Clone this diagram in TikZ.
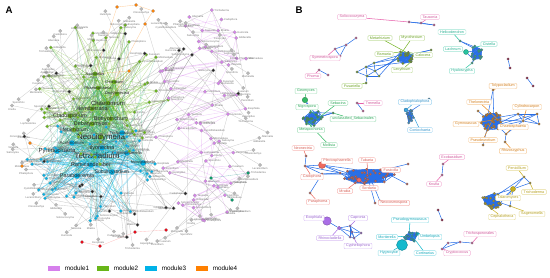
\documentclass[tikz,border=0pt]{standalone}
\usepackage{fontspec}
\setmainfont{Liberation Sans}
\usetikzlibrary{backgrounds}

\definecolor{modone}{RGB}{214,128,236}
\definecolor{modtwo}{RGB}{104,182,24}
\definecolor{modthree}{RGB}{0,178,232}
\definecolor{modfour}{RGB}{255,128,0}
\definecolor{netblue}{RGB}{40,110,230}
\definecolor{cred}{RGB}{238,105,95}
\definecolor{cgreen}{RGB}{120,180,40}
\definecolor{cteal}{RGB}{40,195,160}
\definecolor{corange}{RGB}{235,140,30}
\definecolor{cyell}{RGB}{200,175,30}
\definecolor{cpurp}{RGB}{170,110,230}
\definecolor{ccyan}{RGB}{20,185,205}
\definecolor{cpink}{RGB}{230,95,170}
\definecolor{cemer}{RGB}{50,185,100}
\definecolor{clblue}{RGB}{60,165,225}

\tikzset{
  adot/.style={circle, inner sep=0pt, minimum size=0.07cm, draw=black!35, line width=0.1pt},
  ahub/.style={circle, inner sep=0pt, minimum size=0.1cm, draw=black!35, line width=0.1pt},
  alab/.style={font=\fontsize{1.5}{1.7}\selectfont, text=black!55, inner sep=0.3pt},
  hlab/.style={font=\fontsize{#1}{#1}\selectfont, text=black!85, inner sep=0pt},
  eA/.style={line width=0.2pt, draw opacity=0.38},
  bdot/.style={circle, inner sep=0pt, minimum size=0.05cm, draw=black!60, line width=0.1pt},
  bbig/.style={circle, inner sep=0pt, draw=#1!70!black, line width=0.2pt, fill=#1},
  bedge/.style={netblue, line width=0.3pt},
  blab/.style={draw=#1!45, rounded corners=0.6pt, fill=white, text=#1!90!black,
    font=\fontsize{2.1}{2.4}\selectfont, inner xsep=1.2pt, inner ysep=0.6pt, line width=0.25pt},
  lk/.style={#1, line width=0.3pt},
  panel/.style={font=\bfseries\fontsize{5.5}{6}\selectfont, inner sep=0pt},
  swatch/.style={fill=#1, minimum width=0.24cm, minimum height=0.1cm, inner sep=0pt},
  leg/.style={font=\fontsize{3.6}{4}\selectfont, inner sep=0.5pt, anchor=west}
}

\def\smallnames{{"Mortierella","Fusarium","Penicillium","Aspergillus","Trichoderma","Alternaria","Cadophora","Exophiala","Mrakia","Tausonia","Humicola","Solicoccozyma","Gibberella","Clonostachys","Lecanicillium","Cystofilobasidium","Phialophora","Minimedusa","Saitozyma","Volutella","Conocybe","Lophiostoma","Knufia","Sporothrix"}}

% dense module in panel B: name, cx, cy, rx, ry, count, colour
\newcommand{\hubnet}[7]{%
  \foreach \i in {1,...,#6}{
    \pgfmathsetmacro\ang{360*rnd}
    \pgfmathsetmacro\rr{sqrt(rnd)}
    \node[bdot, fill=#7!85!black] (#1\i) at ({#2+#4*\rr*cos(\ang)},{#3+#5*\rr*sin(\ang)}) {};
  }
  \begin{pgfonlayer}{background}
    \foreach \a in {1,...,#6}{\foreach \b in {1,...,#6}{\ifnum\a<\b \draw[bedge] (#1\a) -- (#1\b);\fi}}
  \end{pgfonlayer}
}

\begin{document}
\begin{tikzpicture}[x=0.02cm, y=-0.02cm]
\useasboundingbox (0,0) rectangle (550,277);
\pgfmathsetseed{31}

\node[panel] (labA) at (9,10) {A};
\node[panel] (labB) at (299,10) {B};

% ---------------- panel A ----------------
% module2 hubs
\foreach \nm/\x/\y/\s [count=\k] in {Chaetomium/108/103/3.4, Hemibetraria/92/109/3.1, Cladosporium/70/116/3.1,
    Debaryomyces/92/124/3.1, Botryotrichum/111/119/3.1, Metarhizium/74/130/2.9, Phaeosphaeria/98/88/2.3,
    Ascobolus/95/74/2.3, Chloridium/114/82/2.2, Dactylonectria/117/94/2.2, Neodidymelia/101/137/4.5}{
  \node[ahub, fill=modtwo, label={[hlab=\s]center:\nm}] (gh\k) at (\x,\y) {};
}
% module3 hubs
\foreach \nm/\x/\y/\s [count=\k] in {Tetracladium/97/156/4.5, Pyrenochaeta/57/151/3.4, Ilyonectria/102/148/3.1,
    Ramicandelaber/91/165/3.1, Paraboeremia/77/176/3.1, Subulicystidium/112/172/2.8, Acremonium/72/143/2.5,
    Plectosphaerella/127/153/2.3, Monographella/143/163/2.1, Trichocladium/122/133/2.3}{
  \node[ahub, fill=modthree, minimum size=0.12cm, label={[hlab=\s]center:\nm}] (bh\k) at (\x,\y) {};
}
% module2 nodes
\foreach \i in {1,...,48}{
  \pgfmathsetmacro\ang{360*rnd}
  \pgfmathsetmacro\rr{0.3+0.7*sqrt(rnd)}
  \pgfmathsetmacro\px{104+68*\rr*cos(\ang)}
  \pgfmathsetmacro\py{90+76*\rr*sin(\ang)}
  \pgfmathparse{\smallnames[mod(\i,24)]}\edef\nm{\pgfmathresult}
  \node[adot, fill=modtwo, label={[alab]right:\nm}] (gn\i) at (\px,\py) {};
}
% module3 nodes
\foreach \i in {1,...,45}{
  \pgfmathsetmacro\ang{360*rnd}
  \pgfmathsetmacro\rr{0.3+0.7*sqrt(rnd)}
  \pgfmathsetmacro\px{92+68*\rr*cos(\ang)}
  \pgfmathsetmacro\py{170+52*\rr*sin(\ang)}
  \pgfmathparse{\smallnames[mod(\i+7,24)]}\edef\nm{\pgfmathresult}
  \node[adot, fill=modthree, label={[alab]right:\nm}] (bn\i) at (\px,\py) {};
}
% module1 nodes
\foreach \i in {1,...,62}{
  \pgfmathsetmacro\py{14+3.377*(\i-1)+8*(rnd-0.5)}
  \pgfmathsetmacro\tt{(\py-117)/108}
  \pgfmathsetmacro\hw{52*sqrt(max(0.05,1-\tt*\tt))}
  \pgfmathsetmacro\px{204+\hw*(2*rnd-1)}
  \pgfmathparse{\smallnames[mod(\i+3,24)]}\edef\nm{\pgfmathresult}
  \node[adot, fill=modone, label={[alab]right:\nm}] (pn\i) at (\px,\py) {};
}
% outer grey nodes
\foreach \i in {1,...,66}{
  \pgfmathsetmacro\ang{5.4545*\i+4*(rnd-0.5)}
  \pgfmathsetmacro\rr{0.83+0.17*rnd}
  \pgfmathsetmacro\px{138+130*\rr*cos(\ang)}
  \pgfmathsetmacro\py{130+124*\rr*sin(\ang)}
  \pgfmathparse{\smallnames[mod(\i+11,24)]}\edef\nm{\pgfmathresult}
  \node[adot, fill=gray!55, label={[alab]below:\nm}] (yn\i) at (\px,\py) {};
}
% black nodes
\foreach \i in {1,...,26}{
  \pgfmathsetmacro\ang{50+290*rnd}
  \pgfmathsetmacro\rr{0.58+0.3*rnd}
  \pgfmathsetmacro\px{138+130*\rr*cos(\ang)}
  \pgfmathsetmacro\py{130+124*\rr*sin(\ang)}
  \pgfmathparse{\smallnames[mod(\i+5,24)]}\edef\nm{\pgfmathresult}
  \node[adot, fill=black!85, label={[alab]left:\nm}] (kn\i) at (\px,\py) {};
}
% module4, red and teal nodes
\foreach \x/\y [count=\k] in {117/7, 136/5, 153/11, 145/24, 129/71, 30/143, 22/166}{
  \node[adot, fill=modfour] (on\k) at (\x,\y) {};
}
\foreach \x/\y [count=\k] in {82/242, 100/246, 135/232, 166/230}{
  \node[adot, fill=red!75!purple] (rn\k) at (\x,\y) {};
}
\foreach \x/\y [count=\k] in {248/173, 211/178, 232/200}{
  \node[adot, fill=teal!80!green] (tn\k) at (\x,\y) {};
}

\begin{pgfonlayer}{background}
  % hub to hub
  \foreach \a in {1,...,11}{\foreach \b in {1,...,11}{\ifnum\a<\b \draw[eA, modtwo] (gh\a) -- (gh\b);\fi}}
  \foreach \a in {1,...,10}{\foreach \b in {1,...,10}{\ifnum\a<\b \draw[eA, modthree] (bh\a) -- (bh\b);\fi}}
  \foreach \a in {1,...,11}{\foreach \b in {1,...,10}{\draw[eA, modthree!50!modtwo] (gh\a) -- (bh\b);}}
  % module members to hubs
  \foreach \i in {1,...,48}{\foreach \r in {1,2,3,4}{
    \pgfmathtruncatemacro\h{random(1,11)} \draw[eA, modtwo] (gn\i) -- (gh\h);}}
  \foreach \i in {1,...,45}{\foreach \r in {1,2,3,4}{
    \pgfmathtruncatemacro\h{random(1,10)} \draw[eA, modthree] (bn\i) -- (bh\h);}}
  \foreach \k in {1,...,50}{
    \pgfmathtruncatemacro\a{random(1,48)} \pgfmathtruncatemacro\b{random(1,10)}
    \draw[eA, modthree!50!modtwo] (gn\a) -- (bh\b);
    \pgfmathtruncatemacro\c{random(1,45)} \pgfmathtruncatemacro\d{random(1,11)}
    \draw[eA, modthree!50!modtwo] (bn\c) -- (gh\d);}
  % module1 web
  \foreach \i in {1,...,62}{\foreach \r in {1,2}{
    \pgfmathtruncatemacro\j{min(62,\i+random(1,7))}
    \ifnum\i<\j \draw[eA, modone] (pn\i) -- (pn\j);\fi}}
  % outer nodes
  \foreach \i in {1,...,66}{
    \ifnum\i<17 \pgfmathtruncatemacro\h{random(30,62)} \draw[eA, gray] (yn\i) -- (pn\h);
    \else\ifnum\i<34 \pgfmathtruncatemacro\h{random(1,45)} \draw[eA, gray] (yn\i) -- (bn\h);
    \else\ifnum\i<50 \pgfmathtruncatemacro\h{random(1,48)} \draw[eA, gray] (yn\i) -- (gn\h);
    \else \pgfmathtruncatemacro\h{random(1,35)} \draw[eA, gray] (yn\i) -- (pn\h);
    \fi\fi\fi}
  \foreach \i in {1,...,26}{\foreach \r in {1,2}{
    \pgfmathtruncatemacro\h{random(1,45)} \draw[eA, black!55] (kn\i) -- (bn\h);}
    \pgfmathtruncatemacro\h{random(1,48)} \draw[eA, black!55] (kn\i) -- (gn\h);}
  \draw[eA, modfour] (on1) -- (on2);
  \draw[eA, modfour] (on2) -- (on3);
  \draw[eA, modfour] (on3) -- (on4);
  \draw[eA, modfour] (on4) -- (gh9);
  \draw[eA, modfour] (on5) -- (gh1);
  \draw[eA, modfour] (on5) -- (gh8);
  \draw[eA, modfour] (on1) -- (gh8);
  \draw[eA, modfour] (on6) -- (bh2);
  \draw[eA, modfour] (on7) -- (bh7);
  \draw[eA, red!60] (rn1) -- (rn2);
  \draw[eA, red!60] (rn2) -- (rn3);
  \draw[eA, red!60] (rn3) -- (rn4);
  \draw[eA, teal] (tn1) -- (tn2);
  \draw[eA, teal] (tn2) -- (tn3);
\end{pgfonlayer}

% legend
\foreach \nm/\c/\x [count=\k] in {module1/modone/48, module2/modtwo/97, module3/modthree/145, module4/modfour/196}{
  \node[swatch=\c, anchor=west] (sw\k) at (\x,268.5) {};
  \node[leg] (lg\k) at ([xshift=0.06cm]sw\k.east) {\nm};
}

% ---------------- panel B ----------------
% red module
\hubnet{rd}{369}{176}{27}{8}{32}{cred}
\node[bbig=cred, minimum size=0.14cm] (rA) at (322,165) {};
\node[bbig=cred, minimum size=0.09cm] (rB) at (359,180) {};
\foreach \x/\y/\n in {305/166/rC, 306/156/rD, 322/174/rE, 340/173/rF, 310/193/rG, 408/164/rH, 407/184/rI, 375/203/rJ, 380/201/rK}{
  \node[bdot, fill=cred!80!black] (\n) at (\x,\y) {};
}
\begin{pgfonlayer}{background}
  \foreach \a/\b in {rD/rC, rC/rE, rC/rF, rA/rF, rA/rd1, rA/rd2, rE/rF, rE/rd2, rG/rE, rH/rd3, rI/rd4, rJ/rd5, rK/rd6, rB/rd7, rF/rd8, rF/rd9, rC/rA}{
    \draw[bedge] (\a) -- (\b);}
\end{pgfonlayer}
% green module
\hubnet{gr}{405}{57}{8}{8}{18}{cgreen}
\foreach \x/\y/\n in {357/72/gA, 366/67/gB, 374/63/gC, 375/71/gD, 367/76/gE, 379/76/gF, 431/50/gG, 366/83/gH}{
  \node[bdot, fill=cgreen!80!black] (\n) at (\x,\y) {};
}
\begin{pgfonlayer}{background}
  \foreach \a/\b in {gA/gB, gB/gC, gC/gD, gB/gD, gA/gE, gE/gD, gD/gF, gE/gF, gB/gE, gC/gr1, gD/gr2, gF/gr3, gC/gr4, gB/gr5, gD/gr6, gG/gr7, gG/gr8, gH/gE}{
    \draw[bedge] (\a) -- (\b);}
\end{pgfonlayer}
% teal module
\hubnet{tl}{476}{53}{8}{7}{14}{cteal}
\node[bbig=cteal, minimum size=0.1cm] (tB) at (466,52) {};
\foreach \x/\y/\n in {460/41/tA, 472/63/tC}{
  \node[bdot, fill=cteal!80!black] (\n) at (\x,\y) {};
}
\begin{pgfonlayer}{background}
  \foreach \a/\b in {tA/tl1, tA/tl2, tB/tl3, tB/tl4, tC/tl5, tC/tl6}{\draw[bedge] (\a) -- (\b);}
\end{pgfonlayer}
% emerald module
\hubnet{em}{313}{118}{10}{8}{20}{cemer}
\node[bbig=cemer, minimum size=0.11cm] (eBig) at (305,100) {};
\node[bdot, fill=cemer!80!black] (eR) at (333,113) {};
\begin{pgfonlayer}{background}
  \foreach \a/\b in {eBig/em1, eBig/em2, eR/em3, eR/em4, eR/em5}{\draw[bedge] (\a) -- (\b);}
\end{pgfonlayer}
% light blue module
\hubnet{lb}{411}{117}{6}{8}{14}{clblue}
\node[bbig=clblue, minimum size=0.08cm] (lbBig) at (406,110) {};
\node[bdot, fill=clblue!80!black] (lbT) at (429,99) {};
\begin{pgfonlayer}{background}
  \foreach \a/\b in {lbBig/lb1, lbBig/lb2, lbT/lb3}{\draw[bedge] (\a) -- (\b);}
\end{pgfonlayer}
% orange module
\hubnet{or}{492}{121}{11}{11}{26}{corange}
\foreach \x/\y/\n in {493/90/oA, 518/114/oB, 537/114/oC, 539/124/oD, 523/121/oE, 506/134/oF, 505/142/oG, 483/145/oH, 478/111/oI}{
  \node[bdot, fill=corange!80!black] (\n) at (\x,\y) {};
}
\begin{pgfonlayer}{background}
  \foreach \a/\b in {oA/or1, oA/or2, oB/oC, oC/oD, oD/oE, oE/oB, oB/oD, oC/oE, oE/or3, oB/or4, oB/or5, oC/or5, oF/or6, oG/oF, oH/or7, oI/or8, oF/oE, oE/or9}{
    \draw[bedge] (\a) -- (\b);}
\end{pgfonlayer}
% yellow module
\hubnet{ye}{492}{200}{10}{9}{22}{cyell}
\node[bbig=cyell, minimum size=0.1cm] (yBig) at (513,189) {};
\foreach \x/\y/\n in {524/177/yA, 530/183/yB, 510/206/yC}{
  \node[bdot, fill=cyell!80!black] (\n) at (\x,\y) {};
}
\begin{pgfonlayer}{background}
  \foreach \a/\b in {yA/yB, yA/yBig, yB/yBig, yBig/ye1, yBig/ye2, yBig/ye3, yC/ye4, yA/ye5, yC/yBig}{\draw[bedge] (\a) -- (\b);}
\end{pgfonlayer}
% purple module
\node[bbig=cpurp, minimum size=0.17cm] (kA) at (327,221) {};
\node[bbig=cpurp, minimum size=0.07cm] (kB) at (339,228) {};
\foreach \x/\y/\n in {350/226/kC, 352/232/kD, 361/233/kE, 350/237/kF, 354/238/kG}{
  \node[bdot, fill=cpurp!80!black] (\n) at (\x,\y) {};
}
\begin{pgfonlayer}{background}
  \foreach \a/\b in {kA/kB, kB/kC, kB/kD, kB/kF, kC/kD, kC/kE, kD/kE, kE/kG, kF/kG, kC/kG, kD/kF, kC/kF, kD/kG}{\draw[bedge] (\a) -- (\b);}
\end{pgfonlayer}
% cyan module
\hubnet{cy}{411}{237}{7}{7}{15}{ccyan}
\node[bbig=ccyan, minimum size=0.22cm] (cA) at (402,245) {};
\node[bbig=ccyan, minimum size=0.06cm] (cB) at (418,234) {};
\begin{pgfonlayer}{background}
  \foreach \a/\b in {cA/cy1, cA/cy2, cB/cy3, cB/cy4}{\draw[bedge] (\a) -- (\b);}
\end{pgfonlayer}
% small pink and purple modules
\foreach \x/\y/\n in {409/22/pA, 421/23/pB, 434/25/pC, 335/49/qA, 346/45/qB, 356/38/qC, 340/56/qD,
    319/70/sA, 328/75/sB, 357/103/wA, 363/111/wB, 443/164/iA, 442/175/iB,
    442/249/hA, 448/243/hB, 460/242/hC, 472/243/hD}{
  \node[bdot, fill=cpink!85!black] (\n) at (\x,\y) {};
}
\foreach \x/\y/\n in {508/59/uA, 510/68/uB, 527/78/vA, 533/86/vB, 438/210/jA, 442/220/jB}{
  \node[bdot, fill=purple!70!black] (\n) at (\x,\y) {};
}
\begin{pgfonlayer}{background}
  \foreach \a/\b in {pA/pB, pB/pC, pA/pC, qA/qB, qB/qC, qA/qD, qD/qB, sA/sB, wA/wB, iA/iB,
      hA/hB, hB/hC, hC/hD, hA/hC, uA/uB, vA/vB, jA/jB}{
    \draw[bedge] (\a) -- (\b);}
\end{pgfonlayer}

% labels of panel B
\foreach \c/\nm/\x/\y/\tg [count=\k] in {
    cred/Neonectria/303/148/rD, cred/Plectosphaerella/337/161/rA, cred/Cadophora/312/177/rC,
    cred/Tubaria/367/160/rd1, cred/Fusicolla/391/170/rd2, cred/Mrakia/345/191/rB,
    cred/Sordaria/369/188/rd3, cred/Paraphoma/318/202/rG, cred/Neocosmospora/394/203/rK,
    cgreen/Metarhizium/380/38/gr1, cgreen/Myrothecium/412/38/gr2, cgreen/Ramaria/384/54/gr3,
    cgreen/Calocera/423/55/gr4, cgreen/Lecythium/402/70/gr5, cgreen/Fusariella/352/86/gH,
    cpink/Solicoccozyma/352/17/pA, cpink/Tausonia/430/17/pB, cpink/Symmetrospora/325/58/qA,
    cpink/Phoma/313/76/sA, cpink/Tremella/373/103/wA, cpink/Exobasidium/452/157/iA,
    cpink/Knufia/434/184/iB, cpink/Trichosporonales/480/234/hD, cpink/Cryptococcus/457/253/hA,
    cteal/Helicodendron/452/32/tA, cteal/Lachnum/453/49/tB, cteal/Cistella/489/44/tl1,
    cteal/Hyaloscypha/462/71/tC,
    cemer/Geomyces/306/91/eBig, cemer/Nigrospora/307/107/em1, cemer/Sebacina/338/103/em2,
    cemer/unclassified\_Sebacinales/353/119/eR, cemer/Metapochonia/311/130/em3, cemer/Mollisia/329/145/em4,
    clblue/Cladophialophora/415/102/lbBig, clblue/Coniochaeta/420/130/lb4,
    corange/Tolypocladium/503/86/oA, corange/Thelonectria/479/102/or10, corange/Cylindrocarpon/527/107/oE,
    corange/Gymnoascus/466/124/or11, corange/Chaetosphaeria/513/127/oF, corange/Pseudeurotium/483/140/or12,
    corange/Rhizoscyphus/513/151/oG,
    cyell/Penicillium/517/168/yA, cyell/Trichoderma/534/192/yB, cyell/Talaromyces/508/198/yBig,
    cyell/Sagenomella/532/214/yC, cyell/Cephalotheca/502/217/ye6,
    cpurp/Exophiala/314/218/kA, cpurp/Capronia/358/218/kC, cpurp/Rhinocladiella/330/238/kB,
    cpurp/Cyphellophora/358/246/kG,
    ccyan/Pseudogymnoascus/410/220/cy5, ccyan/Mortierella/387/237/cy6, ccyan/Umbelopsis/430/237/cB,
    ccyan/Hygrocybe/389/253/cA, ccyan/Cortinarius/425/253/cy7}{
  \node[blab=\c] (bl\k) at (\x,\y) {\nm};
  \begin{pgfonlayer}{background}
    \draw[lk=\c] (bl\k) -- (\tg);
  \end{pgfonlayer}
}
\end{tikzpicture}
\end{document}
